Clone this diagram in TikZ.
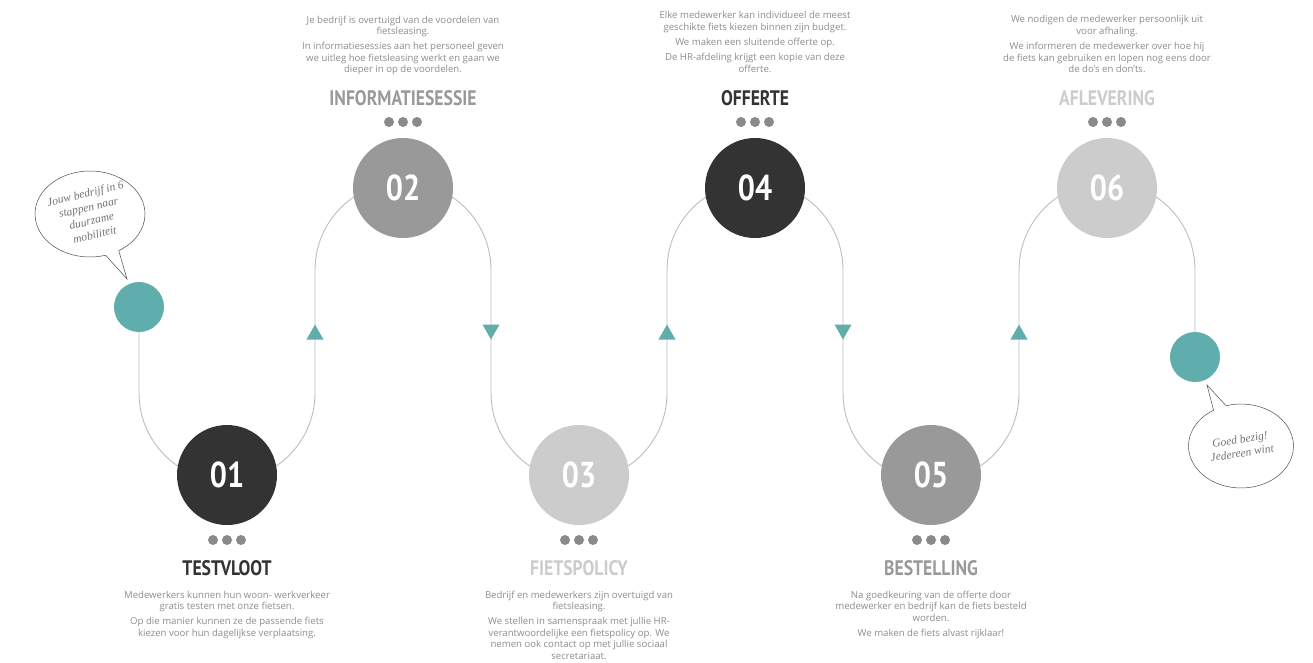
\documentclass[tikz,border=0pt]{standalone}
\usepackage{fontspec}
\setmainfont{Open Sans}
\newfontfamily\stepfont[FakeStretch=0.84]{PT Sans}
\newfontfamily\handfont{Liberation Serif}
\usetikzlibrary{shapes.callouts}

\definecolor{tealdot}{HTML}{5FADAD}
\definecolor{darkstep}{HTML}{333333}
\definecolor{midstep}{HTML}{999999}
\definecolor{lightstep}{HTML}{CCCCCC}
\definecolor{bodygray}{HTML}{8C8C8C}
\definecolor{dotgray}{HTML}{8A8A8A}
\definecolor{wiregray}{HTML}{BDBDBD}

\tikzset{
  stepcircle/.style={circle, minimum size=100pt, inner sep=0pt, text=white,
    font=\stepfont\bfseries\fontsize{36}{36}\selectfont},
  endcircle/.style={circle, fill=tealdot, minimum size=50pt, inner sep=0pt},
  steptitle/.style={inner sep=0pt, anchor=base,
    font=\stepfont\bfseries\fontsize{21}{21}\selectfont},
  steptext/.style={inner sep=0pt, anchor=north, align=center, text=bodygray,
    font=\fontsize{9.6}{11.6}\selectfont},
  wire/.style={draw=wiregray, line width=0.9pt},
  bubble/.style={ellipse callout, draw=black!70, line width=0.5pt,
    minimum width=110pt, minimum height=86pt, inner sep=0pt},
  handtext/.style={align=center, inner sep=0pt, text=black!55,
    font=\handfont\itshape\fontsize{11.5}{14}\selectfont},
}

\begin{document}
\begin{tikzpicture}[x=1pt, y=-1pt]
\useasboundingbox (0,0) rectangle (1313,662);
%
\node[endcircle] (start) at (139,307) {};
\node[endcircle] (finish) at (1195,357) {}; % begin en einde
%
\draw[wire] (start.south) -- (139,393) arc[start angle=180, end angle=0, radius=88]
  -- (315,270) arc[start angle=180, end angle=360, radius=88]
  -- (491,393) arc[start angle=180, end angle=0, radius=88]
  -- (667,270) arc[start angle=180, end angle=360, radius=88]
  -- (843,393) arc[start angle=180, end angle=0, radius=88]
  -- (1019,270) arc[start angle=180, end angle=360, radius=88]
  -- (finish.north); % weg
%
\foreach \x/\s in {315/1, 491/-1, 667/1, 843/-1, 1019/1}
  \fill[tealdot] (\x,{332-7.5*(\s)}) -- ++(8.5,{15*(\s)}) -- ++(-17,0) -- cycle; % pijlen
%
\foreach \n/\x/\y/\c/\dy in {1/227/475/darkstep/540, 2/403/188/midstep/122,
    3/579/475/lightstep/540, 4/755/188/darkstep/122,
    5/931/475/midstep/540, 6/1107/188/lightstep/122}{
  \node[stepcircle, fill=\c] (s\n) at (\x,\y) {0\n};
  \foreach \k in {-14,0,14}
    \fill[dotgray] ({\x+\k},\dy) circle[radius=5]; % bolletjes
}
%
\node[steptitle, text=darkstep] (t1) at (227,575) {TESTVLOOT};
\node[steptitle, text=midstep] (t2) at (403,105) {INFORMATIESESSIE};
\node[steptitle, text=lightstep] (t3) at (579,575) {FIETSPOLICY};
\node[steptitle, text=darkstep] (t4) at (755,105) {OFFERTE};
\node[steptitle, text=midstep] (t5) at (931,575) {BESTELLING};
\node[steptitle, text=lightstep] (t6) at (1107,105) {AFLEVERING};
%
\node[steptext] (b1) at (227,590.5) {Medewerkers kunnen hun woon- werkverkeer\\
  gratis testen met onze fietsen.\\[3.5pt]
  Op die manier kunnen ze de passende fiets\\ kiezen voor hun dagelijkse verplaatsing.};
\node[steptext] (b2) at (403,15.5) {Je bedrijf is overtuigd van de voordelen van\\
  fietsleasing.\\[3.5pt]
  In informatiesessies aan het personeel geven\\ we uitleg hoe fietsleasing werkt en gaan we\\
  dieper in op de voordelen.};
\node[steptext] (b3) at (579,590.5) {Bedrijf en medewerkers zijn overtuigd van\\
  fietsleasing.\\[3.5pt]
  We stellen in samenspraak met jullie HR-\\ verantwoordelijke een fietspolicy op. We\\
  nemen ook contact op met jullie sociaal\\ secretariaat.};
\node[steptext] (b4) at (755,11.5) {Elke medewerker kan individueel de meest\\
  geschikte fiets kiezen binnen zijn budget.\\[3.5pt]
  We maken een sluitende offerte op.\\[3.5pt]
  De HR-afdeling krijgt een kopie van deze\\ offerte.};
\node[steptext] (b5) at (931,590.5) {Na goedkeuring van de offerte door\\
  medewerker en bedrijf kan de fiets besteld\\ worden.\\[3.5pt]
  We maken de fiets alvast rijklaar!};
\node[steptext] (b6) at (1107,15.5) {We nodigen de medewerker persoonlijk uit\\
  voor afhaling.\\[3.5pt]
  We informeren de medewerker over hoe hij\\ de fiets kan gebruiken en lopen nog eens door\\
  de do's en don'ts.};
%
\node[bubble, callout absolute pointer={(127,279)}] (say1) at (90,214) {};
\node[handtext, rotate=13] (say1text) at (say1) {Jouw bedrijf in 6\\ stappen naar\\ duurzame\\ mobiliteit};
\node[bubble, callout absolute pointer={(1207,385)}, minimum width=105pt, minimum height=84pt] (say2) at (1241,446) {};
\node[handtext, rotate=9] (say2text) at (say2) {Goed bezig!\\ Jedereen wint}; % ballonnen
\end{tikzpicture}
\end{document}
